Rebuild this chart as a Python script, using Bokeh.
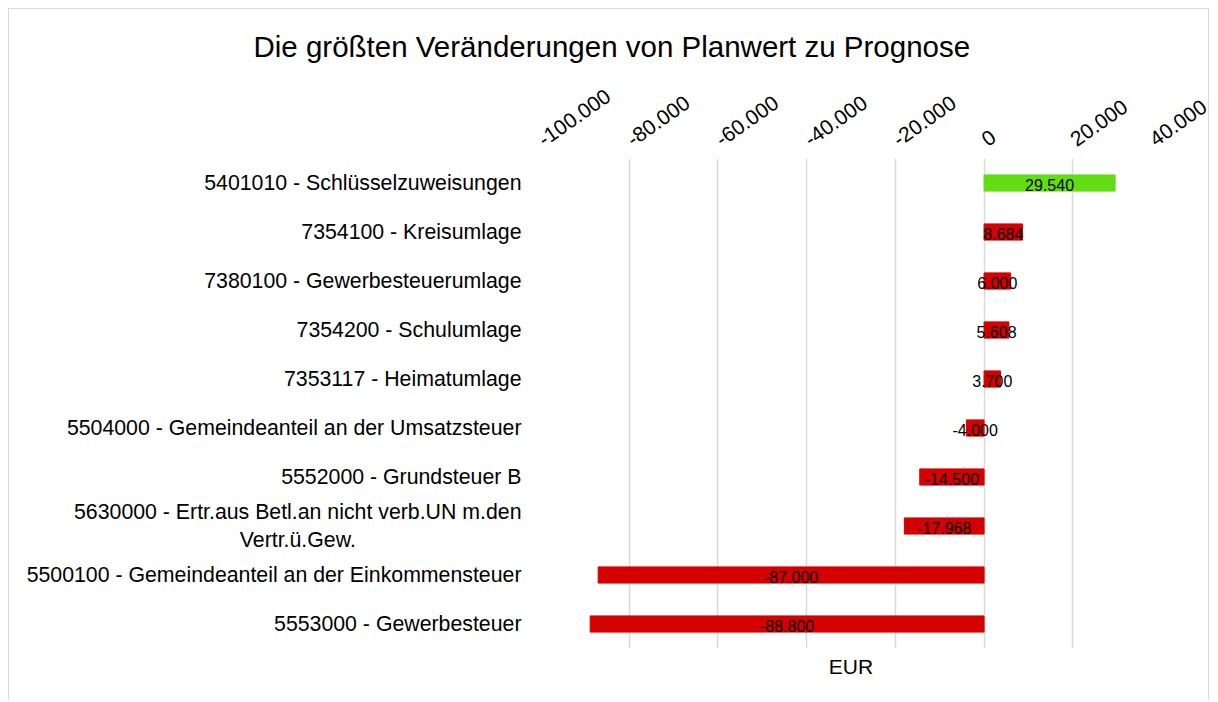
import math
from bokeh.plotting import figure
from bokeh.models import FactorRange, Range1d, FixedTicker, LinearAxis, ColumnDataSource
from bokeh.core.properties import value
from bokeh.embed import file_html
from bokeh.resources import INLINE

# ---- data ----
categories = [
    "5401010 - Schlüsselzuweisungen",
    "7354100 - Kreisumlage",
    "7380100 - Gewerbesteuerumlage",
    "7354200 - Schulumlage",
    "7353117 - Heimatumlage",
    "5504000 - Gemeindeanteil an der Umsatzsteuer",
    "5552000 - Grundsteuer B",
    "5630000 - Ertr.aus Betl.an nicht verb.UN m.den\nVertr.ü.Gew." + "\u00a0" * 28,
    "5500100 - Gemeindeanteil an der Einkommensteuer",
    "5553000 - Gewerbesteuer",
]
values = [29540, 8684, 6000, 5608, 3700, -4000, -14500, -17968, -87000, -88800]
bar_colors = ["#62DD13"] + ["#D50000"] * 9
tick_values = [-100000, -80000, -60000, -40000, -20000, 0, 20000, 40000]
tick_labels = ["-100.000", "-80.000", "-60.000", "-40.000", "-20.000", "0", "20.000", "40.000"]
title_text = "Die größten Veränderungen von Planwert zu Prognose"
axis_title = "EUR"


def de_fmt(v):
    return f"{v:,}".replace(",", ".")


FONT = "Liberation Sans"

src = ColumnDataSource(dict(
    cat=categories,
    val=values,
    mid=[v / 2 for v in values],
    label=[de_fmt(v) for v in values],
    color=bar_colors,
))

p = figure(
    width=1201, height=692,
    y_range=FactorRange(factors=list(reversed(categories)), range_padding=0),
    x_range=Range1d(-100000, 40000),
    x_axis_location="above",
    output_backend="svg", toolbar_location=None,
    min_border_left=531, min_border_right=49,
    min_border_top=149, min_border_bottom=53,
)
p.styles = {
    "margin-left": "8px",
    "margin-top": "8px",
    "border-top": "1px solid #d9d9d9",
    "border-left": "1px solid #d9d9d9",
    "border-right": "1px solid #d9d9d9",
}
p.outline_line_color = None
p.background_fill_color = "white"
p.border_fill_color = "white"

p.title.text = title_text
p.title.text_font = FONT
p.title.text_font_size = "29.5px"
p.title.text_font_style = "normal"
p.title.text_color = "black"
p.title.align = "left"
p.title.offset = -287
p.title.standoff = 34

p.hbar(y="cat", left=0, right="val", height=0.33, color="color", source=src)
p.text(x="mid", y="cat", text="label", source=src, text_align="center",
       text_baseline="middle", y_offset=2, text_font=value(FONT),
       text_font_size="16px", text_color="black")

xa = p.xaxis[0]
xa.ticker = FixedTicker(ticks=tick_values)
xa.major_label_overrides = {t: l for t, l in zip(tick_values, tick_labels)}
xa.major_label_orientation = math.radians(35)
xa.major_label_text_font = FONT
xa.major_label_text_font_size = "21px"
xa.major_label_text_color = "black"
xa.major_label_standoff = 17
xa.axis_line_color = None
xa.major_tick_line_color = None
xa.minor_tick_line_color = None
xa.major_tick_out = 0

ya = p.yaxis[0]
ya.major_label_text_font = FONT
ya.major_label_text_font_size = "21.3px"
ya.major_label_text_color = "black"
ya.major_label_standoff = 19
ya.axis_line_color = None
ya.major_tick_line_color = None
ya.major_tick_out = 0

p.xgrid.grid_line_color = "#d9d9d9"
p.xgrid.grid_line_width = 1.5
p.ygrid.grid_line_color = None

eur = LinearAxis(ticker=FixedTicker(ticks=[]), axis_label=axis_title,
                 axis_label_text_font=FONT, axis_label_text_font_size="21px",
                 axis_label_text_font_style="normal", axis_label_text_color="black",
                 axis_label_standoff=6, axis_line_color=None,
                 major_tick_line_color=None, minor_tick_line_color=None)
p.add_layout(eur, "below")

open("out.html", "w").write(file_html(p, INLINE))
